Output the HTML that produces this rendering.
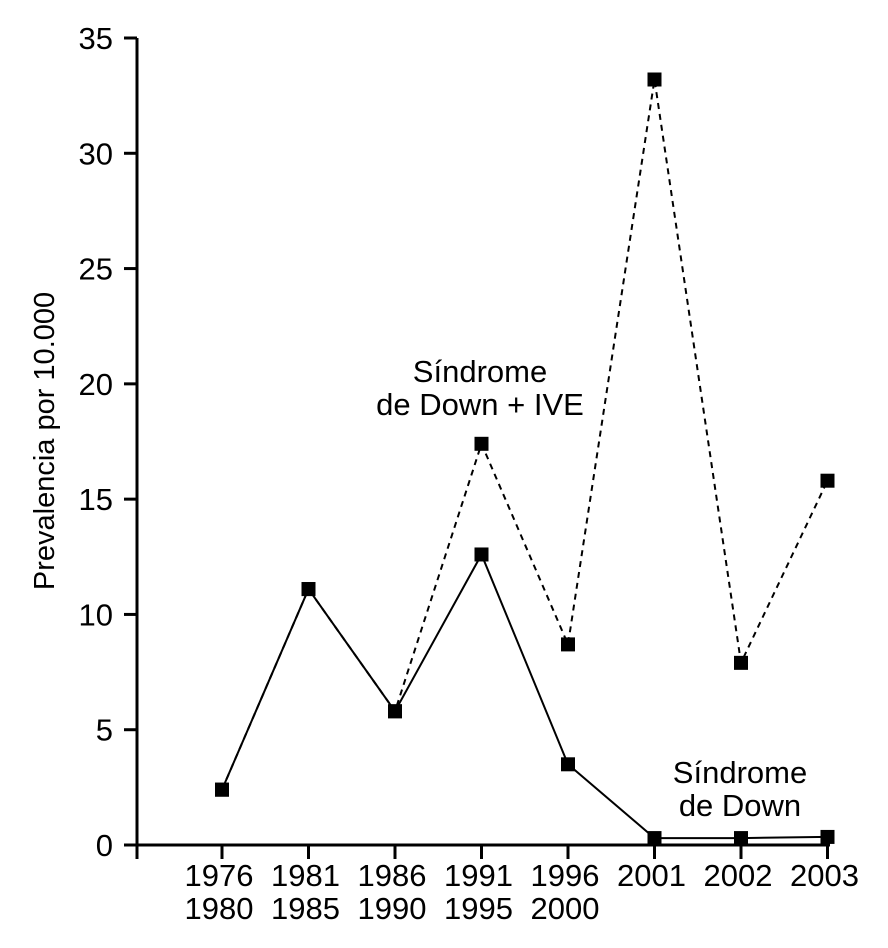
<!DOCTYPE html>
<html><head><meta charset="utf-8"><style>
html,body{margin:0;padding:0;background:#fff;}
svg{display:block;font-family:"Liberation Sans",sans-serif;}
</style></head><body>
<svg id="chart" width="888" height="948"></svg>
<script>
const categories=[["1976","1980"],["1981","1985"],["1986","1990"],["1991","1995"],["1996","2000"],["2001",""],["2002",""],["2003",""]];
const downValues=[2.4,11.1,5.8,12.6,3.5,0.3,0.3,0.35];
const iveValues=[2.4,11.1,5.8,17.4,8.7,33.2,7.9,15.8];
const yTicks=[0,5,10,15,20,25,30,35];
const NS="http://www.w3.org/2000/svg";
const svg=document.getElementById('chart');
const x0=137,x1=830,y0=845,ymax=38;
const xs=i=>222+i*86.5;
const ys=v=>y0-(y0-ymax)*v/35;
function mk(t,a,p){const e=document.createElementNS(NS,t);for(const k in a)e.setAttribute(k,a[k]);(p||svg).appendChild(e);return e;}
const yAxis=mk('line',{x1:x0,y1:ymax,x2:x0,y2:y0+14,stroke:'#000','stroke-width':3});


const xAxis=mk('line',{x1:x0-1,y1:y0,x2:x1,y2:y0,stroke:'#000','stroke-width':3});


yTicks.forEach(v=>{
 const y=ys(v);
 const t=mk('line',{x1:x0-13,y1:y,x2:x0,y2:y,stroke:'#000','stroke-width':3});
 
 
 const l=mk('text',{x:x0-24,y:y+11,'text-anchor':'end','font-size':31});
 l.textContent=v;
 
 
});
categories.forEach((c,i)=>{
 const x=xs(i);
 const t=mk('line',{x1:x,y1:y0,x2:x,y2:y0+14,stroke:'#000','stroke-width':3});
 
 
 c.forEach((s,j)=>{ if(!s)return;
  const l=mk('text',{x:x-3,y:886+j*33,'text-anchor':'middle','font-size':31});
  l.textContent=s;
  
  
 });
});
const yt=mk('text',{x:0,y:0,'text-anchor':'middle','font-size':29,transform:'translate(54,441) rotate(-90)'});
yt.textContent='Prevalencia por 10.000';


function series(vals,dash,name){
 const p=mk('polyline',{points:vals.map((v,i)=>xs(i)+','+ys(v)).join(' '),fill:'none',stroke:'#000','stroke-width':2,'stroke-dasharray':dash});
 
 
 vals.forEach((v,i)=>{
  const r=mk('rect',{x:xs(i)-7,y:ys(v)-7,width:14,height:14,fill:'#000'});
  
  
 });
}
series(iveValues,'6,5','down-ive');
series(downValues,'none','down');
function label(lines,x,y,name){
 lines.forEach((s,j)=>{
  const t=mk('text',{x:x,y:y+j*33,'text-anchor':'middle','font-size':31});
  t.textContent=s;
  
  
 });
}
label(['Síndrome','de Down + IVE'],480,382,'label-down-ive');
label(['Síndrome','de Down'],740,783,'label-down');
</script>
</body></html>
